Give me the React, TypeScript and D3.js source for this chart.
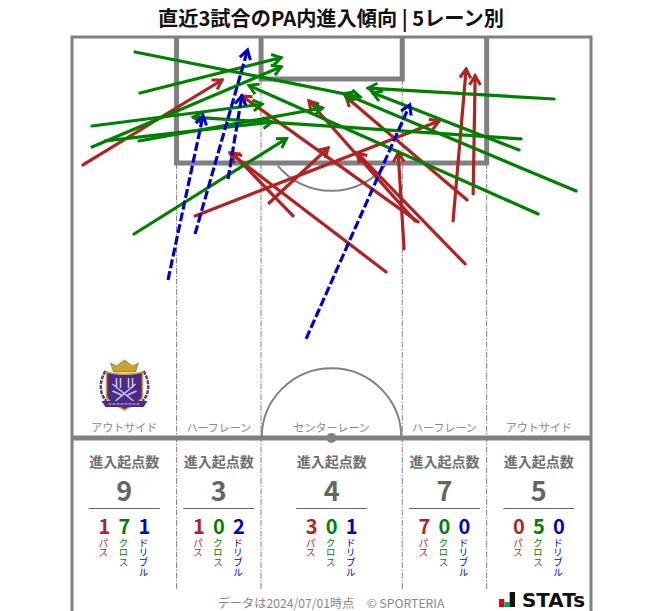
import React from "react";
import * as d3 from "d3";

type Arrow = [number, number, number, number];

// arrows in pitch metres: start x, start y, end x, end y (y measured from the goal line)
const passArrows: Arrow[] = [
  [1.44, 16.75, 19.66, 5.63],
  [16.12, 23.43, 48.1, 11.0],
  [25.82, 21.73, 33.55, 14.53],
  [28.96, 23.43, 20.97, 15.18],
  [41.15, 30.76, 20.71, 15.18],
  [43.51, 27.75, 42.73, 15.18],
  [49.93, 24.08, 51.64, 4.19],
  [52.56, 20.55, 52.82, 5.1],
  [51.51, 29.71, 37.35, 15.18],
  [44.95, 24.08, 31.06, 8.38],
  [51.77, 21.34, 35.91, 7.85],
  [45.35, 24.21, 22.28, 7.72],
];
const crossArrows: Arrow[] = [
  [8.26, 1.96, 37.75, 7.85],
  [8.91, 7.33, 27.4, 2.7],
  [2.62, 14.4, 27.4, 3.9],
  [2.62, 11.65, 24.9, 8.8],
  [8.78, 13.61, 32.8, 9.3],
  [8.13, 25.79, 28.1, 13.3],
  [4.33, 13.61, 26.2, 11.15],
  [63.17, 8.12, 38.8, 6.7],
  [58.58, 14.79, 39.4, 7.3],
  [58.85, 13.35, 15.9, 10.5],
  [66.06, 20.16, 35.6, 7.4],
  [61.07, 23.17, 23.2, 6.35],
];
const dribbleArrows: Arrow[] = [
  [12.58, 31.81, 17.17, 10.3],
  [16.12, 25.79, 23.0, 1.7],
  [20.45, 18.59, 22.25, 7.7],
  [30.67, 39.53, 44.25, 8.9],
];

const laneNames = ["アウトサイド", "ハーフレーン", "センターレーン", "ハーフレーン", "アウトサイド"];
const laneEdges = [0, 13.7, 24.77, 43.27, 54.33, 68];
const laneTotals = [9, 3, 4, 7, 5];
const lanePasses = [1, 1, 3, 7, 0];
const laneCrosses = [7, 0, 0, 0, 5];
const laneDribbles = [1, 2, 1, 0, 0];

const kinds = [
  { label: "パス", color: "#b22222", values: lanePasses },
  { label: "クロス", color: "#008000", values: laneCrosses },
  { label: "ドリブル", color: "#0000cd", values: laneDribbles },
];

const FONT = "'Noto Sans CJK JP', 'Noto Sans', sans-serif";
const LINE = "#808080";

const x = d3.scaleLinear().domain([0, 68]).range([72, 591]);
const y = d3.scaleLinear().domain([0, 52.5]).range([37, 438]);
const unit = x(1) - x(0);

const arcPath = d3.path();
arcPath.arc(x(34), y(11), 9.15 * unit, 0.22 * Math.PI, 0.78 * Math.PI);
const centerArc = d3.path();
centerArc.arc(x(34), y(52.5), 9.15 * unit, Math.PI, 2 * Math.PI);

function Arrows({ data, color, id, dash }: { data: Arrow[]; color: string; id: string; dash?: string }) {
  return (
    <g>
      <defs>
        <marker id={id} markerUnits="userSpaceOnUse" markerWidth="18" markerHeight="18" refX="11" refY="8" orient="auto" overflow="visible">
          <path d="M2,2.5 L11,8 L2,13.5" fill="none" stroke={color} strokeWidth="3" />
        </marker>
      </defs>
      {data.map((d, i) => (
        <line
          key={i}
          x1={x(d[0])}
          y1={y(d[1])}
          x2={x(d[2])}
          y2={y(d[3])}
          stroke={color}
          strokeWidth={3.2}
          strokeLinecap={dash ? "butt" : "round"}
          strokeDasharray={dash}
          markerEnd={`url(#${id})`}
        />
      ))}
    </g>
  );
}

function Crest() {
  return (
    <g transform="translate(124.5,390)">
      <path d="M-19,-19 C-26,-8 -25,4 -18,11" fill="none" stroke="#5a3a9e" strokeWidth="2.5" strokeDasharray="4 1" />
      <path d="M19,-19 C26,-8 25,4 18,11" fill="none" stroke="#5a3a9e" strokeWidth="2.5" strokeDasharray="4 1" />
      <path d="M-11,-18 L-14,-27 L-8,-24 L0,-30 L8,-24 L14,-27 L11,-18 Z" fill="#c9a227" stroke="#7a6420" strokeWidth="0.6" />
      <path d="M-18,-18 C-8,-15 8,-15 18,-18 L18,6 C18,12 6,16 0,20 C-6,16 -18,12 -18,6 Z" fill="#4b2a8c" stroke="#c9a227" strokeWidth="1.6" />
      <path d="M-8,-12 L-8,-2 M-4,-12 L-4,-2 M4,-12 L4,-2 M8,-12 L8,-2 M-12,-6 L9,11 M11,-6 L-9,11 M-12,1 L-3,5 M12,1 L3,5" stroke="#cfc8e6" strokeWidth="1.5" fill="none" />
      <path d="M-23,11 L23,11 L19,17 L-19,17 Z" fill="#4b2a8c" />
      <path d="M-16,14 L16,14" stroke="#cfc8e6" strokeWidth="1" strokeDasharray="3 1" />
    </g>
  );
}

function StatsLogo() {
  const barX = d3.scaleBand<number>().domain([0, 1, 2]).range([499, 515]);
  const barH = [8, 5, 15];
  const barC = ["#e60012", "#00a651", "#111111"];
  return (
    <g>
      {barH.map((h, i) => (
        <rect key={i} x={barX(i)} y={607 - h} width={barX.bandwidth()} height={h} fill={barC[i]} />
      ))}
      <text x={522} y={607} fontFamily="'DejaVu Sans', sans-serif" fontWeight={700} fontSize={19} fill="#111" textLength={63} lengthAdjust="spacingAndGlyphs">
        STATs
      </text>
    </g>
  );
}

export default function App() {
  const centers = laneNames.map((_, i) => x((laneEdges[i] + laneEdges[i + 1]) / 2));
  return (
    <svg width={663} height={611} style={{ position: "absolute", left: 0, top: 0, display: "block" }} fontFamily={FONT}>
      <rect width={663} height={611} fill="#fff" />
      <text x={331} y={26} textAnchor="middle" fontSize={20.2} fontWeight={700} fill="#111">
        直近3試合のPA内進入傾向 | 5レーン別
      </text>

      {/* pitch */}
      <path d={`M${x(0)},620 V${y(0)} H${x(68)} V620`} fill="none" stroke={LINE} strokeWidth={3} />
      <path d={`M${x(13.7)},${y(0)} V${y(16.5)} H${x(54.33)} V${y(0)}`} fill="none" stroke={LINE} strokeWidth={5} />
      <path d={`M${x(24.77)},${y(0)} V${y(5.5)} H${x(43.27)} V${y(0)}`} fill="none" stroke={LINE} strokeWidth={5} />
      <path d={arcPath.toString()} fill="none" stroke={LINE} strokeWidth={2} />
      <path d={centerArc.toString()} fill="none" stroke={LINE} strokeWidth={2} />
      <line x1={x(0)} x2={x(68)} y1={y(52.5)} y2={y(52.5)} stroke={LINE} strokeWidth={5} />
      <circle cx={x(34)} cy={y(52.5)} r={5} fill={LINE} />
      {[13.7, 54.33].map((v) => (
        <line key={v} x1={x(v)} x2={x(v)} y1={y(16.5)} y2={590} stroke={LINE} strokeWidth={1} strokeDasharray="6 1.5 1.5 1.5" />
      ))}
      {[24.77, 43.27].map((v) => (
        <line key={v} x1={x(v)} x2={x(v)} y1={y(5.5)} y2={590} stroke={LINE} strokeWidth={1} strokeDasharray="6 1.5 1.5 1.5" />
      ))}

      <Crest />

      {/* lane summaries */}
      {laneNames.map((name, i) => (
        <g key={i}>
          <text x={centers[i]} y={432} textAnchor="middle" fontSize={11} fill="#888">
            {name}
          </text>
          <text x={centers[i]} y={467} textAnchor="middle" fontSize={14} fontWeight={700} fill="#707070">
            進入起点数
          </text>
          <text x={centers[i]} y={501} textAnchor="middle" fontSize={27} fontWeight={700} fill="#666">
            {laneTotals[i]}
          </text>
          <line x1={centers[i] - 35.5} x2={centers[i] + 35.5} y1={508.5} y2={508.5} stroke="#666" strokeWidth={1} />
          {kinds.map((k, j) => {
            const cx = centers[i] + (j - 1) * 20;
            return (
              <g key={k.label}>
                <text x={cx} y={534} textAnchor="middle" fontSize={20} fontWeight={700} fill={k.color}>
                  {k.values[i]}
                </text>
                <text x={cx - 1} y={538} fontSize={9.8} fill={k.color} textAnchor="start" style={{ writingMode: "vertical-rl" }}>
                  {k.label}
                </text>
              </g>
            );
          })}
        </g>
      ))}

      <Arrows data={passArrows} color="#b22222" id="head-pass" />
      <Arrows data={crossArrows} color="#008000" id="head-cross" />
      <Arrows data={dribbleArrows} color="#0000cd" id="head-dribble" dash="9 3" />

      <text x={331} y={607.5} textAnchor="middle" fontSize={12.2} fill="#888">
        データは2024/07/01時点　© SPORTERIA
      </text>
      <StatsLogo />
    </svg>
  );
}
